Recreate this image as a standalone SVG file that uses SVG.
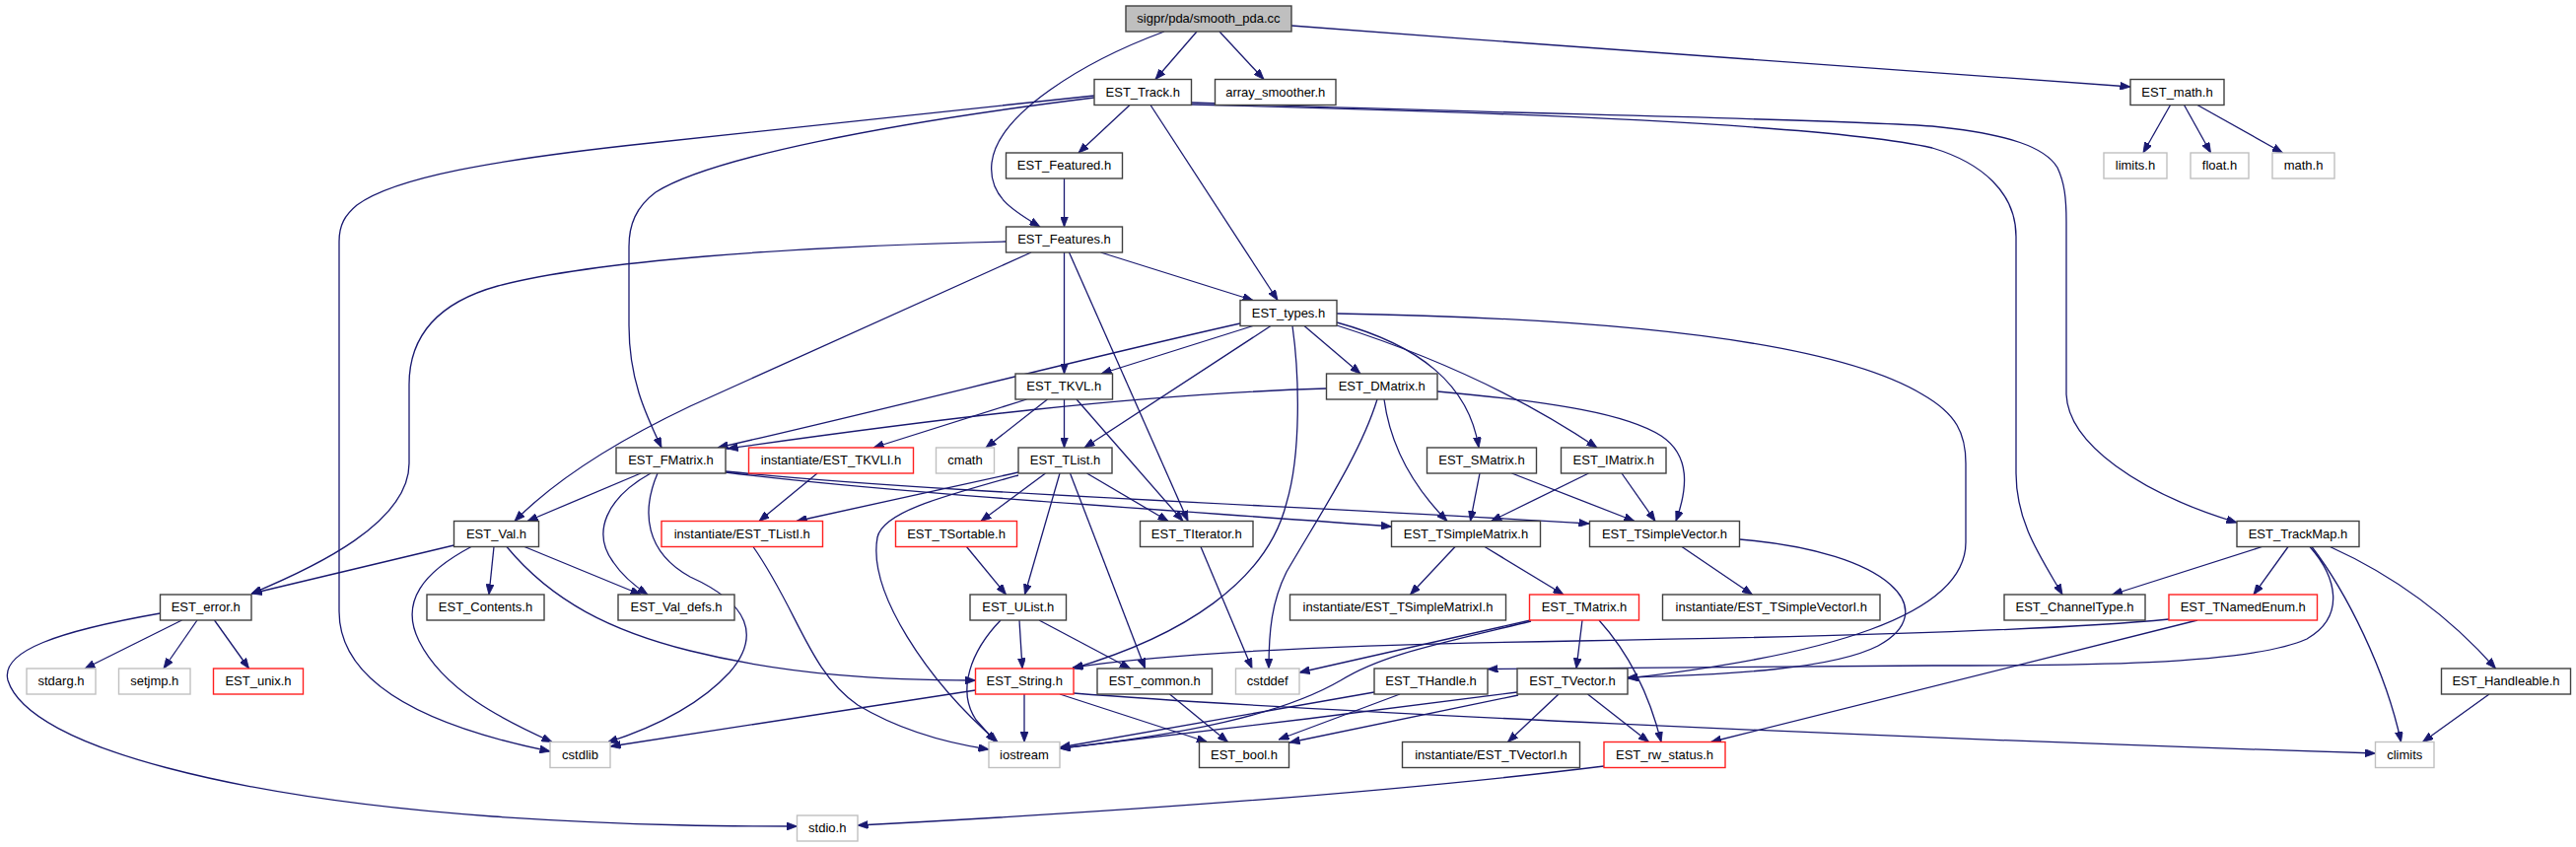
<svg xmlns="http://www.w3.org/2000/svg" width="2613" height="859" viewBox="0 0 2613 859">
<style>
rect{fill:#fff;stroke:#404040;stroke-width:1.4}
.r rect{stroke:#ff2020}
.g rect{stroke:#c0c0c0}
.root rect{fill:#bfbfbf}
text{font-family:"Liberation Sans",Arial,Helvetica,sans-serif;font-size:13px;text-anchor:middle;fill:#000}
#edges path{fill:none;stroke:#191970;stroke-width:1.3;marker-end:url(#a)}
</style>
<defs>
<marker id="a" markerWidth="11" markerHeight="8" refX="10.5" refY="4" orient="auto" markerUnits="userSpaceOnUse"><path d="M0,0 L10.5,4 L0,8 z" fill="#191970" stroke="#191970" stroke-width="0.8"/></marker>
</defs>
<rect x="0" y="0" width="2613" height="859" style="fill:#fff;stroke:none"/>
<g id="edges">
<path d="M1181,32 C1100,62 1012,115 1006,165 C1002,200 1030,215 1055,230"/>
<path d="M1214,32 L1172,80.5"/>
<path d="M1237,32 L1282,80.5"/>
<path d="M1310,26 C1600,48 1900,70 2161,88"/>
<path d="M1146,106.5 L1094,155"/>
<path d="M1167,106.5 L1296,304.5"/>
<path d="M1110,99 C900,125 720,160 665,195 C645,210 638,228 638,250 L638,330 C638,385 655,420 671,454"/>
<path d="M1110,97 L660,145 C500,162 400,180 362,208 C350,218 344,228 344,245 L344,620 C344,700 450,740 558,762"/>
<path d="M1208,104 C1500,115 1850,120 1960,128 C2040,136 2075,150 2087,170 C2094,185 2096,200 2096,225 L2096,400 C2098,450 2170,500 2269,530"/>
<path d="M1208,106 C1500,113 1850,125 1960,150 C2010,165 2045,195 2045,240 L2045,480 C2045,530 2070,565 2092,603"/>
<path d="M2201.5,106.5 L2174,155"/>
<path d="M2215.5,106.5 L2242.5,155"/>
<path d="M2229,106.5 L2315.5,155"/>
<path d="M1079.5,181 L1079.5,230"/>
<path d="M1116.5,256 L1271,304.5"/>
<path d="M1079.5,256 L1079.5,379"/>
<path d="M1084.5,256 L1205,528.5"/>
<path d="M1020.5,245 C800,250 600,265 505,290 C440,308 415,345 415,390 L415,470 C415,530 320,575 255,602"/>
<path d="M1046,256 L700,412 C620,450 560,490 522,528.5"/>
<path d="M1258,328 C1080,368 900,415 728,454"/>
<path d="M1345.5,394 C1150,400 950,425 738,455"/>
<path d="M1041.5,405 L886,454"/>
<path d="M1062.5,405 L1000,454"/>
<path d="M1079.5,405 L1079.5,454"/>
<path d="M1092,405 L1200,528.5"/>
<path d="M1271,330.5 L1117,379"/>
<path d="M1289,330.5 L1100,454"/>
<path d="M1323,330.5 L1380,379"/>
<path d="M1311,330.5 C1318,380 1320,460 1305,510 C1285,590 1200,645 1088,678"/>
<path d="M1356,327 C1440,350 1490,390 1500,454"/>
<path d="M1356,330 C1450,360 1540,400 1620,454"/>
<path d="M1356,318 C1600,322 1850,340 1950,400 C1985,420 1994,440 1994,470 L1994,550 C1994,625 1850,665 1651,688"/>
<path d="M1764.5,547 C1920,560 1970,620 1905,655 C1860,678 1760,684 1651,687"/>
<path d="M1404,405 C1410,450 1430,490 1468,528.5"/>
<path d="M1397,405 C1380,460 1340,520 1305,580 C1290,610 1287,640 1287,678"/>
<path d="M1458,397 C1580,408 1650,420 1685,442 C1715,462 1712,495 1700,528.5"/>
<path d="M1501,480 L1491.5,528.5"/>
<path d="M1533.5,480 L1658,528.5"/>
<path d="M1611.5,480 L1512.5,528.5"/>
<path d="M1645,480 L1679,528.5"/>
<path d="M736,478 C950,500 1300,512 1612,531"/>
<path d="M736,479 C900,500 1200,518 1411.5,534"/>
<path d="M650,480 L535,528.5"/>
<path d="M660,480 C615,505 600,540 622,570 C632,585 645,595 657,603"/>
<path d="M667,480 C650,520 655,560 700,585 C760,612 772,645 740,682 C705,720 650,742 616,753"/>
<path d="M460.5,553 L255,602"/>
<path d="M478,554.5 C430,580 405,610 425,650 C450,700 510,730 560,752.5"/>
<path d="M501,554.5 L496,603"/>
<path d="M514,554.5 C560,610 620,640 700,660 C800,685 900,690 989.5,690"/>
<path d="M532,554.5 L650,603"/>
<path d="M184.5,629 L86,678"/>
<path d="M200,629 L166,678"/>
<path d="M217.5,629 L252.5,678"/>
<path d="M162.5,622 C60,640 0,660 8,690 C30,760 250,810 500,828 C650,838 750,838 808.5,838"/>
<path d="M829,480 L770,528.5"/>
<path d="M1033,479 L808,528.5"/>
<path d="M1033,482 C950,505 895,520 890,545 C880,600 940,690 1012,752.5"/>
<path d="M1060.5,480 L995,528.5"/>
<path d="M1075,480 L1039.5,603"/>
<path d="M1085.5,480 L1161.5,678"/>
<path d="M1102.5,480 L1185,528.5"/>
<path d="M764,554.5 C810,620 820,680 870,715 C920,745 970,755 1003,760"/>
<path d="M980.5,554.5 L1020.5,603"/>
<path d="M1218,554.5 L1270,678"/>
<path d="M1015,629 C985,660 970,700 990,730 L1010,752.5"/>
<path d="M1034,629 L1037,678"/>
<path d="M1054,629 L1146.5,678"/>
<path d="M1039,704 L1039,752.5"/>
<path d="M1075,704 L1224.5,752.5"/>
<path d="M989.5,700 L619,757"/>
<path d="M1089,703 C1300,720 1900,748 2409.5,764"/>
<path d="M1186.5,704 L1245.5,752.5"/>
<path d="M1476,554.5 L1430.5,603"/>
<path d="M1506,554.5 L1586,603"/>
<path d="M1706,554.5 L1777.5,603"/>
<path d="M1605,629 L1599,678"/>
<path d="M1622,629 C1650,660 1672,700 1685,752.5"/>
<path d="M1552.5,629 L1318,682"/>
<path d="M1553,630 C1450,655 1400,665 1360,690 C1300,725 1200,745 1075,759"/>
<path d="M1394,702 L1075,758"/>
<path d="M1420,704 L1297,750"/>
<path d="M1539,702 C1400,720 1200,745 1075,759"/>
<path d="M1540,705 L1308,753"/>
<path d="M1581,704 L1529.5,752.5"/>
<path d="M1610.5,704 L1672.5,752.5"/>
<path d="M1627,777 C1400,805 1100,825 870,837"/>
<path d="M2294.5,554.5 L2142.5,603"/>
<path d="M2321,554.5 L2286,603"/>
<path d="M2343,554.5 C2370,585 2380,625 2340,648 C2280,675 2100,675 1960,675 L1509,678.5"/>
<path d="M2345,554.5 C2380,600 2420,680 2435.5,752.5"/>
<path d="M2363.5,554.5 C2420,580 2480,620 2531.5,678"/>
<path d="M2525,704 L2457.5,752.5"/>
<path d="M2200,628 C2100,638 1900,645 1600,650 C1400,653 1200,660 1088,677"/>
<path d="M2229,629 L1735.5,752.5"/>
</g>
<g id="smooth" class="root"><rect x="1142" y="6" width="168" height="26"/><text x="1226" y="23">sigpr/pda/smooth_pda.cc</text></g>
<g id="track"><rect x="1110" y="80.5" width="98.5" height="26"/><text x="1159.25" y="97.5">EST_Track.h</text></g>
<g id="arrsm"><rect x="1232.5" y="80.5" width="122.5" height="26"/><text x="1293.75" y="97.5">array_smoother.h</text></g>
<g id="math"><rect x="2161" y="80.5" width="95" height="26"/><text x="2208.5" y="97.5">EST_math.h</text></g>
<g id="featured"><rect x="1020.5" y="155" width="118" height="26"/><text x="1079.5" y="172">EST_Featured.h</text></g>
<g id="limits" class="g"><rect x="2134" y="155" width="64" height="26"/><text x="2166" y="172">limits.h</text></g>
<g id="float" class="g"><rect x="2222" y="155" width="59" height="26"/><text x="2251.5" y="172">float.h</text></g>
<g id="mathh" class="g"><rect x="2305" y="155" width="63" height="26"/><text x="2336.5" y="172">math.h</text></g>
<g id="features"><rect x="1020.5" y="230" width="118" height="26"/><text x="1079.5" y="247">EST_Features.h</text></g>
<g id="types"><rect x="1258" y="304.5" width="98" height="26"/><text x="1307" y="321.5">EST_types.h</text></g>
<g id="tkvl"><rect x="1030" y="379" width="98.5" height="26"/><text x="1079.25" y="396">EST_TKVL.h</text></g>
<g id="dmatrix"><rect x="1345.5" y="379" width="112.5" height="26"/><text x="1401.75" y="396">EST_DMatrix.h</text></g>
<g id="fmatrix"><rect x="625" y="454" width="111" height="26"/><text x="680.5" y="471">EST_FMatrix.h</text></g>
<g id="tkvli" class="r"><rect x="759.5" y="454" width="167" height="26"/><text x="843" y="471">instantiate/EST_TKVLI.h</text></g>
<g id="cmath" class="g"><rect x="949.5" y="454" width="59" height="26"/><text x="979" y="471">cmath</text></g>
<g id="tlist"><rect x="1033" y="454" width="95" height="26"/><text x="1080.5" y="471">EST_TList.h</text></g>
<g id="smatrix"><rect x="1447.5" y="454" width="111" height="26"/><text x="1503" y="471">EST_SMatrix.h</text></g>
<g id="imatrix"><rect x="1583.5" y="454" width="106.5" height="26"/><text x="1636.75" y="471">EST_IMatrix.h</text></g>
<g id="val"><rect x="460.5" y="528.5" width="86" height="26"/><text x="503.5" y="545.5">EST_Val.h</text></g>
<g id="tlisti" class="r"><rect x="671" y="528.5" width="163.5" height="26"/><text x="752.75" y="545.5">instantiate/EST_TListI.h</text></g>
<g id="tsortable" class="r"><rect x="908.5" y="528.5" width="123" height="26"/><text x="970" y="545.5">EST_TSortable.h</text></g>
<g id="titerator"><rect x="1156.5" y="528.5" width="114.5" height="26"/><text x="1213.75" y="545.5">EST_TIterator.h</text></g>
<g id="tsmatrix"><rect x="1411.5" y="528.5" width="151" height="26"/><text x="1487" y="545.5">EST_TSimpleMatrix.h</text></g>
<g id="tsvector"><rect x="1612.5" y="528.5" width="152" height="26"/><text x="1688.5" y="545.5">EST_TSimpleVector.h</text></g>
<g id="trackmap"><rect x="2269" y="528.5" width="124" height="26"/><text x="2331" y="545.5">EST_TrackMap.h</text></g>
<g id="error"><rect x="162.5" y="603" width="92.5" height="26"/><text x="208.75" y="620">EST_error.h</text></g>
<g id="contents"><rect x="433" y="603" width="119" height="26"/><text x="492.5" y="620">EST_Contents.h</text></g>
<g id="valdefs"><rect x="627" y="603" width="118" height="26"/><text x="686" y="620">EST_Val_defs.h</text></g>
<g id="ulist"><rect x="984" y="603" width="97.5" height="26"/><text x="1032.75" y="620">EST_UList.h</text></g>
<g id="tsmatrixi"><rect x="1308.5" y="603" width="219" height="26"/><text x="1418" y="620">instantiate/EST_TSimpleMatrixI.h</text></g>
<g id="tmatrix" class="r"><rect x="1551.5" y="603" width="111" height="26"/><text x="1607" y="620">EST_TMatrix.h</text></g>
<g id="tsvectori"><rect x="1686.5" y="603" width="220.5" height="26"/><text x="1796.75" y="620">instantiate/EST_TSimpleVectorI.h</text></g>
<g id="channel"><rect x="2033" y="603" width="143" height="26"/><text x="2104.5" y="620">EST_ChannelType.h</text></g>
<g id="namedenum" class="r"><rect x="2200" y="603" width="150.5" height="26"/><text x="2275.25" y="620">EST_TNamedEnum.h</text></g>
<g id="stdarg" class="g"><rect x="27" y="678" width="70" height="26"/><text x="62" y="695">stdarg.h</text></g>
<g id="setjmp" class="g"><rect x="120.5" y="678" width="72.5" height="26"/><text x="156.75" y="695">setjmp.h</text></g>
<g id="unix" class="r"><rect x="216.5" y="678" width="91" height="26"/><text x="262" y="695">EST_unix.h</text></g>
<g id="string" class="r"><rect x="989.5" y="678" width="99.5" height="26"/><text x="1039.25" y="695">EST_String.h</text></g>
<g id="common"><rect x="1113" y="678" width="116.5" height="26"/><text x="1171.25" y="695">EST_common.h</text></g>
<g id="cstddef" class="g"><rect x="1253.5" y="678" width="64.5" height="26"/><text x="1285.75" y="695">cstddef</text></g>
<g id="thandle"><rect x="1394" y="678" width="115" height="26"/><text x="1451.5" y="695">EST_THandle.h</text></g>
<g id="tvector"><rect x="1539" y="678" width="112" height="26"/><text x="1595" y="695">EST_TVector.h</text></g>
<g id="handleable"><rect x="2476.5" y="678" width="131" height="26"/><text x="2542" y="695">EST_Handleable.h</text></g>
<g id="cstdlib" class="g"><rect x="558" y="752.5" width="61" height="26"/><text x="588.5" y="769.5">cstdlib</text></g>
<g id="iostream" class="g"><rect x="1003" y="752.5" width="72" height="26"/><text x="1039" y="769.5">iostream</text></g>
<g id="bool"><rect x="1216.5" y="752.5" width="91" height="26"/><text x="1262" y="769.5">EST_bool.h</text></g>
<g id="tvectori"><rect x="1422.5" y="752.5" width="180" height="26"/><text x="1512.5" y="769.5">instantiate/EST_TVectorI.h</text></g>
<g id="rwstatus" class="r"><rect x="1627" y="752.5" width="123" height="26"/><text x="1688.5" y="769.5">EST_rw_status.h</text></g>
<g id="climits" class="g"><rect x="2409.5" y="752.5" width="59.5" height="26"/><text x="2439.25" y="769.5">climits</text></g>
<g id="stdio" class="g"><rect x="808.5" y="827" width="61.5" height="26"/><text x="839.25" y="844">stdio.h</text></g>
</svg>
